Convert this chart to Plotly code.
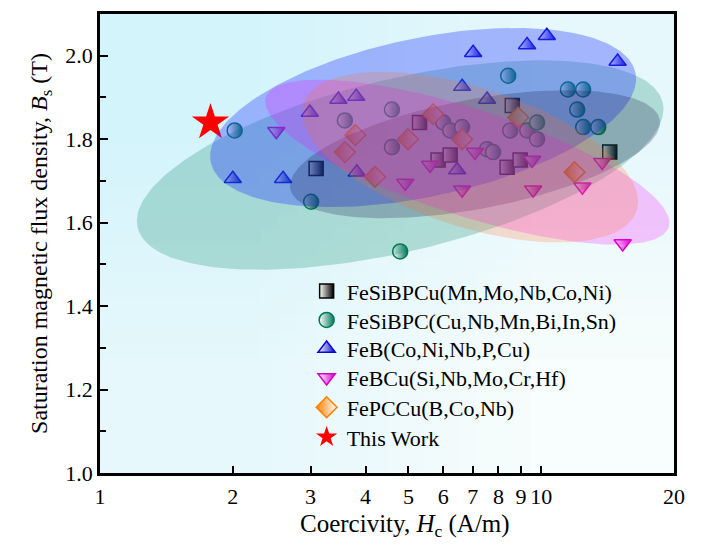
import math, zlib, struct, base64
import numpy as np
import plotly.graph_objects as go

# ---------------- data ----------------
hc_fesibpcu = [3.09, 5.3, 5.84, 6.22, 8.6, 8.37, 8.96, 14.3]
bs_fesibpcu = [1.73, 1.84, 1.75, 1.762, 1.881, 1.733, 1.75, 1.769]

hc_fesibpc = [2.02, 3.01, 4.79, 3.59, 4.59, 4.59, 6.0, 6.22, 6.62, 7.54, 7.78,
              8.51, 9.30, 9.79, 9.79, 8.42, 11.5, 12.45, 12.07, 12.45, 13.47]
bs_fesibpc = [1.821, 1.650, 1.531, 1.845, 1.871, 1.781, 1.840, 1.821, 1.829, 1.776, 1.769,
              1.821, 1.821, 1.840, 1.80, 1.952, 1.919, 1.919, 1.871, 1.829, 1.829]

hc_feb = [2.0, 2.6, 2.99, 3.47, 3.81, 3.82, 6.45, 6.62, 7.01, 7.54, 9.29, 10.3, 14.9]
bs_feb = [1.705, 1.705, 1.864, 1.895, 1.902, 1.721, 1.726, 1.926, 2.007, 1.895, 2.026, 2.048, 1.986]

hc_febcu = [2.51, 4.92, 5.6, 7.08, 6.62, 9.54, 9.59, 12.4, 13.75, 15.3]
bs_febcu = [1.819, 1.695, 1.738, 1.769, 1.679, 1.75, 1.679, 1.686, 1.745, 1.55]

hc_fepccu = [3.79, 3.59, 4.2, 4.99, 5.69, 6.62, 8.87, 11.9]
bs_fepccu = [1.81, 1.769, 1.71, 1.80, 1.86, 1.80, 1.852, 1.721]

hc_this = [1.78]
bs_this = [1.84]

series_names = ["FeSiBPCu(Mn,Mo,Nb,Co,Ni)", "FeSiBPC(Cu,Nb,Mn,Bi,In,Sn)",
                "FeB(Co,Ni,Nb,P,Cu)", "FeBCu(Si,Nb,Mo,Cr,Hf)", "FePCCu(B,Co,Nb)", "This Work"]

# distribution ellipses: centre Hc, centre Bs, semi-axes (decades), tilt (deg)
ell_center_hc = [4.79, 5.40, 7.08, 6.80, 6.90]
ell_center_bs = [1.738, 1.852, 1.764, 1.745, 1.757]
ell_semi_major = [0.612, 0.492, 0.426, 0.48, 0.397]
ell_semi_minor = [0.197, 0.181, 0.125, 0.122, 0.159]
ell_angle = [13.5, 12.0, 10.7, -18.0, -18.0]

x_tickvals = [1, 2, 3, 4, 5, 6, 7, 8, 9, 10, 20]
x_ticktext = ["1", "2", "3", "4", "5", "6", "7", "8", "9", "10", "20"]

# ---------------- styling ----------------
FONT = "Liberation Serif"
colors = ["#000000", "#00785a", "#0a0ad2", "#d800c8", "#ff8000", "#ff0000"]
ell_fill = ["rgba(0,128,96,0.24)", "rgba(45,65,255,0.36)", "rgba(20,20,70,0.24)",
            "rgba(255,0,255,0.22)", "rgba(255,110,40,0.22)"]
symbols = ["square", "circle", "triangle-up", "triangle-down", "diamond", "star"]
sizes = [14, 15, 15, 15, 16, 28]
legend_rows_y = [0.396, 0.333, 0.2706, 0.2078, 0.1429, 0.0779]

R = 441.0 / 420.0  # screen aspect: px per decade / px per tesla

fig = go.Figure()

# background gradient image (tiny PNG stretched over the plot area)
def make_png(pix, w, h):
    raw = b"".join(b"\x00" + bytes([c for p in row for c in p]) for row in pix)
    def chunk(t, d):
        return struct.pack(">I", len(d)) + t + d + struct.pack(">I", zlib.crc32(t + d) & 0xffffffff)
    return (b"\x89PNG\r\n\x1a\n" + chunk(b"IHDR", struct.pack(">IIBBBBB", w, h, 8, 2, 0, 0, 0))
            + chunk(b"IDAT", zlib.compress(raw)) + chunk(b"IEND", b""))

tl, br = (212, 244, 251), (248, 253, 253)
mid = tuple((a + b) // 2 for a, b in zip(tl, br))
png = make_png([[tl, mid], [mid, br]], 2, 2)
src = "data:image/png;base64," + base64.b64encode(png).decode()

all_hc = [hc_fesibpcu, hc_fesibpc, hc_feb, hc_febcu, hc_fepccu, hc_this]
all_bs = [bs_fesibpcu, bs_fesibpc, bs_feb, bs_febcu, bs_fepccu, bs_this]

legend_ids = ["legend"] + ["legend%d" % (i + 1) for i in range(1, 6)]

for i in range(6):
    c = colors[i]
    if i == 5:
        marker = dict(symbol="star", size=sizes[i], color=c, line=dict(width=0))
    elif symbols[i] == "diamond":
        marker = dict(symbol=symbols[i], size=sizes[i], color=c,
                      gradient=dict(type="horizontal", color="white"),
                      line=dict(color=c, width=1.5))
    else:
        marker = dict(symbol=symbols[i], size=sizes[i], color="white",
                      gradient=dict(type="horizontal", color=c),
                      line=dict(color=c, width=1.5))
    fig.add_trace(go.Scatter(x=all_hc[i], y=all_bs[i], mode="markers", name=series_names[i],
                             marker=marker, showlegend=True, legend=legend_ids[i]))

t = np.linspace(0, 2 * np.pi, 240)
for k in range(5):
    cu = math.log10(ell_center_hc[k])
    cv = ell_center_bs[k] / R
    th = math.radians(ell_angle[k])
    a, b = ell_semi_major[k], ell_semi_minor[k]
    u = cu + a * np.cos(t) * math.cos(th) - b * np.sin(t) * math.sin(th)
    v = cv + a * np.cos(t) * math.sin(th) + b * np.sin(t) * math.cos(th)
    fig.add_trace(go.Scatter(x=10 ** u, y=v * R, mode="lines", fill="toself",
                             fillcolor=ell_fill[k], line=dict(width=0), hoverinfo="skip",
                             showlegend=False))

legends = {}
for i, lid in enumerate(legend_ids):
    legends[lid] = dict(x=0.36, y=legend_rows_y[i], xanchor="left", yanchor="middle",
                        bgcolor="rgba(0,0,0,0)", itemwidth=30,
                        font=dict(family=FONT, size=22, color="black"))

# page body has an 8px margin, so the figure is 8px smaller than the window
fig.update_layout(
    width=694, height=537,
    margin=dict(l=92, r=28, t=3, b=72),
    paper_bgcolor="white", plot_bgcolor="rgba(0,0,0,0)",
    font=dict(family=FONT, size=22, color="black"),
    showlegend=True,
    images=[dict(source=src, xref="paper", yref="paper", x=0, y=1, sizex=1, sizey=1,
                 sizing="stretch", layer="below")],
    annotations=[dict(text="Coercivity, <i>H</i><sub>c</sub> (A/m)", xref="paper", yref="paper",
                      x=0.531, y=-0.1147, xanchor="center", yanchor="middle", showarrow=False,
                      font=dict(family=FONT, size=25, color="black"))],
    **legends,
)
fig.update_xaxes(type="log", range=[0, math.log10(20)], tickvals=x_tickvals, ticktext=x_ticktext,
                 tickfont=dict(family=FONT, size=22, color="black"), ticklabelstandoff=2,
                 ticks="inside", ticklen=7, tickwidth=2, tickcolor="black",
                 showline=True, linewidth=2.5, linecolor="black", mirror=True,
                 showgrid=False, zeroline=False)
fig.update_yaxes(range=[1.0, 2.1], tickvals=[1.0, 1.2, 1.4, 1.6, 1.8, 2.0], tickformat=".1f",
                 tickfont=dict(family=FONT, size=22, color="black"),
                 ticks="inside", ticklen=8, tickwidth=2, tickcolor="black",
                 minor=dict(tickvals=[1.1, 1.3, 1.5, 1.7, 1.9], ticks="inside", ticklen=6,
                            tickwidth=2, tickcolor="black"),
                 showline=True, linewidth=2.5, linecolor="black", mirror=True,
                 showgrid=False, zeroline=False,
                 title=dict(text="Saturation magnetic flux density, <i>B</i><sub>s</sub> (T)",
                            standoff=11, font=dict(family=FONT, size=24, color="black")))

fig.write_html("out.html")
